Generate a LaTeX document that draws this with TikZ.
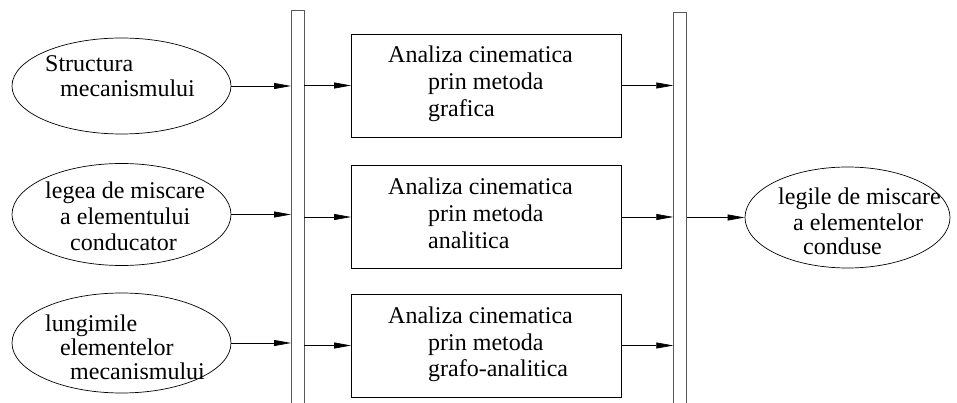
\documentclass[tikz,border=0pt]{standalone}
\usepackage{fontspec}
\setmainfont{Liberation Serif}
\usetikzlibrary{arrows.meta,shapes.geometric}
\begin{document}
\begin{tikzpicture}[x=1pt,y=-1pt,
  oval/.style={draw,ellipse,line width=0.7pt,inner sep=0pt},
  boxnode/.style={draw,rectangle,line width=0.8pt,inner sep=0pt},
  barnode/.style={draw=black!65,rectangle,line width=0.9pt,inner sep=0pt,minimum width=12.5pt},
  txt/.style={anchor=base west,inner sep=0pt,font=\fontsize{24}{26}\selectfont},
  arr/.style={line width=0.7pt,-{Triangle[length=17pt,width=6pt]}}]
\useasboundingbox (0,0) rectangle (957,403);
% bars
\node[barnode,minimum height=405pt] (lb) at (297.75,212.5) {};
\node[barnode,minimum height=402.3pt] (rb) at (680,213.85) {};
% left ellipses
\node[oval,minimum width=219pt,minimum height=96pt] (e1) at (121.5,86) {};
\node[oval,minimum width=219pt,minimum height=102pt] (e2) at (121.5,214.5) {};
\node[oval,minimum width=219pt,minimum height=100pt] (e3) at (121.5,343) {};
% right ellipse
\node[oval,minimum width=205pt,minimum height=101pt] (e4) at (847.5,217.5) {};
% boxes
\node[boxnode,minimum width=270pt,minimum height=103pt] (b1) at (486.5,85.5) {};
\node[boxnode,minimum width=270pt,minimum height=103pt] (b2) at (486.5,217) {};
\node[boxnode,minimum width=270pt,minimum height=103pt] (b3) at (486.5,345.5) {};
% texts
\node[txt] (t11) at (45,72) {Structura};
\node[txt] (t12) at (60,97) {mecanismului};
\node[txt] (t21) at (45,199) {legea de miscare};
\node[txt] (t22) at (60,225) {a elementului};
\node[txt] (t23) at (70,250) {conducator};
\node[txt] (t31) at (45,331) {lungimile};
\node[txt] (t32) at (60,355) {elementelor};
\node[txt] (t33) at (70,379) {mecanismului};
\node[txt] (t41) at (778,205) {legile de miscare};
\node[txt] (t42) at (793,230) {a elementelor};
\node[txt] (t43) at (803,254) {conduse};
\node[txt] (a11) at (388,63) {Analiza cinematica};
\node[txt] (a12) at (428,90) {prin metoda};
\node[txt] (a13) at (428,116.5) {grafica};
\node[txt] (a21) at (388,194.5) {Analiza cinematica};
\node[txt] (a22) at (428,221.5) {prin metoda};
\node[txt] (a23) at (428,248) {analitica};
\node[txt] (a31) at (388,323) {Analiza cinematica};
\node[txt] (a32) at (428,350) {prin metoda};
\node[txt] (a33) at (428,376.5) {grafo-analitica};
% arrows
\draw[arr] (e1.east) -- (e1.east -| lb.west);
\draw[arr] (e2.east) -- (e2.east -| lb.west);
\draw[arr] (e3.east) -- (e3.east -| lb.west);
\draw[arr] (b1.west -| lb.east) -- (b1.west);
\draw[arr] (b2.west -| lb.east) -- (b2.west);
\draw[arr] (b3.west -| lb.east) -- (b3.west);
\draw[arr] (b1.east) -- (b1.east -| rb.west);
\draw[arr] (b2.east) -- (b2.east -| rb.west);
\draw[arr] (b3.east) -- (b3.east -| rb.west);
\draw[arr] (e4.west -| rb.east) -- (e4.west);
\end{tikzpicture}
\end{document}
